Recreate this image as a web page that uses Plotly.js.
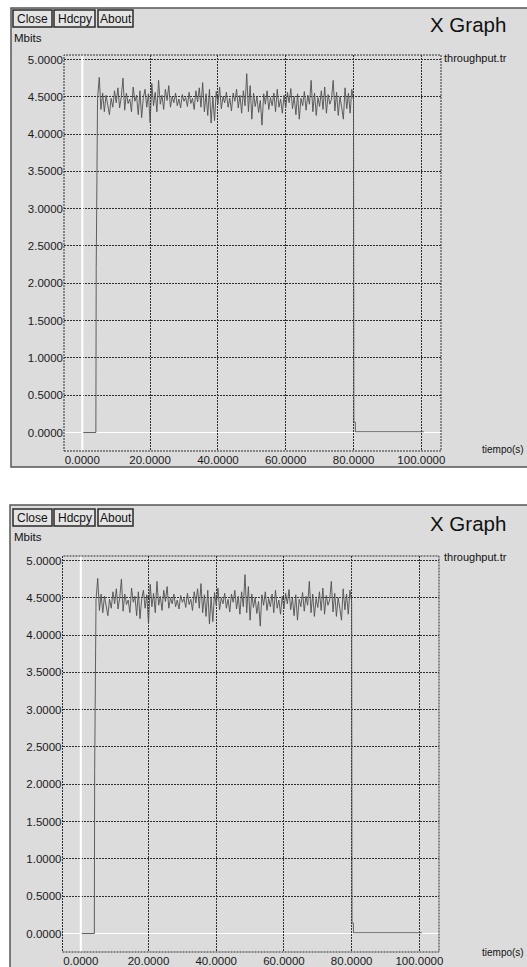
<!DOCTYPE html>
<html>
<head>
<meta charset="utf-8">
<script src="https://cdn.plot.ly/plotly-3.0.1.min.js"></script>
<style>
html,body{margin:0;padding:0;background:#ffffff;}
#chart{width:527px;height:967px;}
</style>
</head>
<body>
<div id="chart"></div>
<script>
// ---- data ----
var headTime = [0, 4.0, 4.1];
var headValue = [0, 0, 2.2];
var noiseStart = 4.5, noiseStep = 0.5;
var noiseValue = [
 4.48,4.76,4.33,4.55,4.30,4.52,4.40,4.26,4.48,4.36,
 4.58,4.42,4.62,4.35,4.50,4.75,4.32,4.55,4.41,4.47,
 4.30,4.63,4.44,4.52,4.26,4.58,4.22,4.49,4.60,4.36,
 4.54,4.15,4.68,4.38,4.56,4.30,4.72,4.40,4.52,4.33,
 4.60,4.45,4.65,4.36,4.50,4.42,4.55,4.38,4.47,4.35,
 4.53,4.44,4.49,4.37,4.56,4.41,4.48,4.33,4.58,4.43,
 4.62,4.36,4.69,4.30,4.54,4.25,4.60,4.15,4.50,4.18,
 4.57,4.40,4.63,4.34,4.50,4.42,4.56,4.36,4.48,4.31,
 4.55,4.44,4.60,4.35,4.52,4.28,4.58,4.38,4.81,4.30,
 4.65,4.20,4.55,4.37,4.50,4.29,4.45,4.12,4.54,4.40,
 4.58,4.33,4.49,4.38,4.55,4.30,4.60,4.36,4.47,4.28,
 4.52,4.35,4.56,4.42,4.61,4.34,4.50,4.26,4.54,4.20,
 4.48,4.38,4.57,4.32,4.52,4.40,4.72,4.30,4.55,4.25,
 4.49,4.37,4.58,4.33,4.63,4.28,4.53,4.40,4.47,4.72,
 4.31,4.56,4.25,4.50,4.36,4.20,4.62,4.34,4.55,4.28,
 4.60,4.45
];
var tailTime = [80.05, 80.1, 80.5, 80.55, 100.7];
var tailValue = [2.4, 0.14, 0.14, 0.01, 0.01];
var xTickVals = [0, 20, 40, 60, 80, 100];
var yTickVals = [0, 0.5, 1, 1.5, 2, 2.5, 3, 3.5, 4, 4.5, 5];
var seriesName = "throughput.tr";
var yLabel = "Mbits";
var xLabel = "tiempo(s)";
var windowTitle = "X Graph";
var buttons = ["Close", "Hdcpy", "About"];

// ---- build series ----
var tx = headTime.slice(), ty = headValue.slice();
for (var i = 0; i < noiseValue.length; i++) { tx.push(noiseStart + noiseStep * i); ty.push(noiseValue[i]); }
tx = tx.concat(tailTime); ty = ty.concat(tailValue);

var W = 527, H = 967;
function px(x){ return x / W; }
function py(y){ return 1 - y / H; }

var FONT = "Liberation Sans, Arial, sans-serif";
var GRID = "#2e2e2e";

var panels = [
  {top: 8, bottom: 467, left: 11, off: 0, dom: [64, 441], ydom: [55, 451]},
  {top: 505, bottom: 968, left: 10, off: 499, dom: [62.5, 439], ydom: [556, 952]}
];

var traces = [];
var layout = {
  width: W, height: H,
  margin: {l: 0, r: 0, t: 0, b: 0},
  paper_bgcolor: "#ffffff",
  plot_bgcolor: "rgba(0,0,0,0)",
  showlegend: false,
  font: {family: FONT, color: "#1a1a1a", size: 11.5},
  shapes: [], annotations: []
};

panels.forEach(function(p, k){
  var xa = k === 0 ? "xaxis" : "xaxis2";
  var ya = k === 0 ? "yaxis" : "yaxis2";
  var xr = k === 0 ? "x" : "x2";
  var yr = k === 0 ? "y" : "y2";
  traces.push({
    x: tx, y: ty, type: "scatter", mode: "lines", name: seriesName,
    xaxis: xr, yaxis: yr, hoverinfo: "skip",
    line: {color: "#505050", width: 0.9}
  });
  layout[xa] = {
    domain: [px(p.dom[0]), px(p.dom[1])],
    anchor: yr, range: [-5.4, 105.8],
    tickmode: "array", tickvals: xTickVals, tickformat: ".4f",
    ticks: "", showline: false,
    showgrid: true, gridcolor: GRID, gridwidth: 1, griddash: "2px,1px",
    zeroline: false,
    tickfont: {family: FONT, size: 11.5, color: "#1a1a1a"},
    fixedrange: true
  };
  layout[ya] = {
    domain: [py(p.ydom[1]), py(p.ydom[0])],
    anchor: xr, range: [-0.248, 5.06],
    tickmode: "array", tickvals: yTickVals, tickformat: ".4f",
    ticks: "", showline: false,
    showgrid: true, gridcolor: GRID, gridwidth: 1, griddash: "2px,1px",
    zeroline: true, zerolinecolor: "#ffffff", zerolinewidth: 1.5,
    tickfont: {family: FONT, size: 11.5, color: "#1a1a1a"},
    fixedrange: true
  };
  // window background
  layout.shapes.push({type: "rect", xref: "paper", yref: "paper", layer: "below",
    x0: px(p.left), x1: 1.05, y0: py(p.bottom), y1: py(p.top),
    fillcolor: "#dcdcdc", line: {color: "#555555", width: 1.5}});
  // white vertical zero line
  layout.shapes.push({type: "line", xref: xr, yref: yr + " domain", layer: "above",
    x0: 0, x1: 0, y0: 0, y1: 1, line: {color: "#ffffff", width: 2}});
  // plot frame (dotted)
  layout.shapes.push({type: "rect", xref: xr + " domain", yref: yr + " domain", layer: "above",
    x0: 0, x1: 1, y0: 0, y1: 1, line: {color: GRID, width: 1, dash: "2px,1px"}});
  // buttons
  var bx = [[13, 52], [54, 95], [98, 133]];
  buttons.forEach(function(b, j){
    layout.shapes.push({type: "rect", xref: "paper", yref: "paper", layer: "below",
      x0: px(bx[j][0]), x1: px(bx[j][1]), y0: py(p.off + 27), y1: py(p.off + 10),
      fillcolor: "#e4e4e4", line: {color: "#2a2a2a", width: 1.5}});
    layout.annotations.push({xref: "paper", yref: "paper", showarrow: false,
      x: px((bx[j][0] + bx[j][1]) / 2), y: py(p.off + 18.5), xanchor: "center", yanchor: "middle",
      text: b, font: {family: FONT, size: 12, color: "#111"}});
  });
  layout.annotations.push({xref: "paper", yref: "paper", showarrow: false,
    x: px(12), y: py(p.off + 38), xanchor: "left", yanchor: "middle",
    text: yLabel, font: {family: FONT, size: 11.5, color: "#111"}});
  layout.annotations.push({xref: "paper", yref: "paper", showarrow: false,
    x: px(428), y: py(p.off + 24), xanchor: "left", yanchor: "middle",
    text: windowTitle, font: {family: FONT, size: 20.5, color: "#111"}});
  layout.annotations.push({xref: "paper", yref: "paper", showarrow: false,
    x: px(442), y: py(p.off + 58), xanchor: "left", yanchor: "middle",
    text: seriesName, font: {family: FONT, size: 11, color: "#111"}});
  layout.annotations.push({xref: "paper", yref: "paper", showarrow: false,
    x: px(480), y: py(p.off + (k === 0 ? 450 : 453)), xanchor: "left", yanchor: "middle",
    text: xLabel, font: {family: FONT, size: 10, color: "#111"}});
});

Plotly.newPlot("chart", traces, layout, {displayModeBar: false, staticPlot: true});
</script>
</body>
</html>
